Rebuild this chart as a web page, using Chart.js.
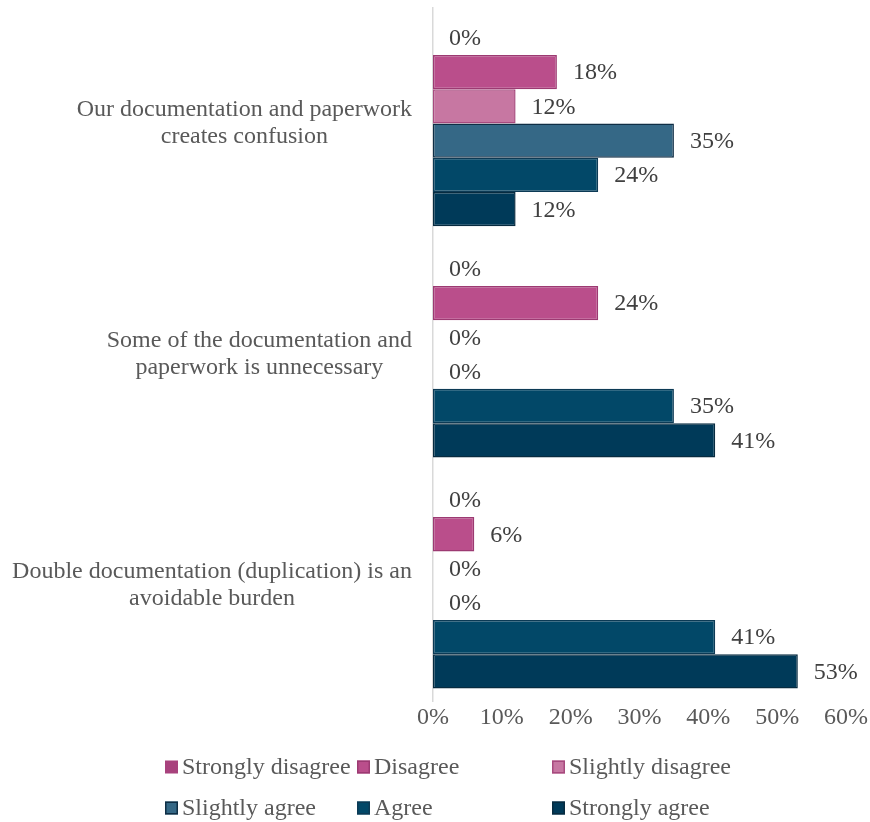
<!DOCTYPE html>
<html>
<head>
<meta charset="utf-8">
<script src="https://cdn.jsdelivr.net/npm/chart.js@4"></script>
<style>
  html, body { margin: 0; padding: 0; background: #fff; }
  #wrap { width: 870px; height: 822px; }
</style>
</head>
<body>
<div id="wrap"><canvas id="surveyChart" width="870" height="822"></canvas></div>
<script>
const categories = [
  ["Our documentation and paperwork", "creates confusion"],
  ["Some of the documentation and", "paperwork is unnecessary"],
  ["Double documentation (duplication) is an", "avoidable burden"]
];
const seriesNames = ["Strongly disagree", "Disagree", "Slightly disagree", "Slightly agree", "Agree", "Strongly agree"];
const stronglyDisagree = [0, 0, 0];
const disagree = [18, 24, 6];
const slightlyDisagree = [12, 0, 0];
const slightlyAgree = [35, 0, 0];
const agree = [24, 35, 41];
const stronglyAgree = [12, 41, 53];
const xTicks = [0, 10, 20, 30, 40, 50, 60];

const fills = ["#A8427D", "#BA4E8B", "#C777A2", "#356886", "#024868", "#003A59"];
const borders = ["#A8427D", "#9C3A72", "#A74A7E", "#0F2E45", "#0C3A55", "#072B40"];
const borderWidths = [0, 1.5, 1.5, 1.5, 1.5, 1.5];
const allValues = [stronglyDisagree, disagree, slightlyDisagree, slightlyAgree, agree, stronglyAgree];

const FONT = "'Liberation Serif', 'Times New Roman', serif";

// labels at the end of each bar
const valueLabels = {
  id: "valueLabels",
  afterDatasetsDraw(chart) {
    const ctx = chart.ctx;
    ctx.save();
    ctx.font = "24px " + FONT;
    ctx.fillStyle = "#404040";
    ctx.textAlign = "left";
    ctx.textBaseline = "middle";
    chart.data.datasets.forEach((ds, i) => {
      chart.getDatasetMeta(i).data.forEach((bar, j) => {
        ctx.fillText(ds.data[j] + "%", bar.x + 16, bar.y + 1);
      });
    });
    ctx.restore();
  }
};

// category labels: block right-aligned, lines centered inside block
const categoryLabels = {
  id: "categoryLabels",
  afterDraw(chart) {
    const ctx = chart.ctx;
    const yScale = chart.scales.y;
    ctx.save();
    ctx.font = "24px " + FONT;
    ctx.fillStyle = "#595959";
    ctx.textAlign = "center";
    ctx.textBaseline = "middle";
    const lineH = 27;
    categories.forEach((lines, i) => {
      const w = Math.max(...lines.map(l => ctx.measureText(l).width));
      const cx = 412 - w / 2;
      const cy = yScale.getPixelForValue(i);
      lines.forEach((l, k) => {
        ctx.fillText(l, cx, cy + (k - (lines.length - 1) / 2) * lineH);
      });
    });
    ctx.restore();
  }
};

// legend laid out in a 3-column grid
const gridLegend = {
  id: "gridLegend",
  afterDraw(chart) {
    const ctx = chart.ctx;
    const cols = [165, 357, 552];
    const rows = [767, 808];
    ctx.save();
    ctx.font = "24px " + FONT;
    ctx.textAlign = "left";
    ctx.textBaseline = "middle";
    chart.data.datasets.forEach((ds, i) => {
      const x = cols[i % 3];
      const y = rows[Math.floor(i / 3)];
      ctx.fillStyle = ds.backgroundColor;
      ctx.fillRect(x, y - 6.5, 13, 13);
      if (ds.borderWidth) {
        ctx.strokeStyle = ds.borderColor;
        ctx.lineWidth = 1.5;
        ctx.strokeRect(x + 0.75, y - 5.75, 11.5, 11.5);
      }
      ctx.fillStyle = "#595959";
      ctx.fillText(ds.label, x + 17, y + 1);
    });
    ctx.restore();
  }
};

new Chart(document.getElementById("surveyChart").getContext("2d"), {
  type: "bar",
  data: {
    labels: categories.map(c => c.join(" ")),
    datasets: seriesNames.map((name, i) => ({
      label: name,
      data: allValues[i],
      backgroundColor: fills[i],
      borderColor: borders[i],
      borderWidth: borderWidths[i],
      borderSkipped: false,
      categoryPercentage: 0.89,
      barPercentage: 1
    }))
  },
  options: {
    indexAxis: "y",
    responsive: false,
    animation: false,
    layout: { padding: { left: 433, right: 5, top: 8, bottom: 88 } },
    plugins: {
      legend: { display: false },
      tooltip: { enabled: false }
    },
    scales: {
      x: {
        min: 0,
        max: 60,
        afterBuildTicks: axis => { axis.ticks = xTicks.map(v => ({ value: v })); },
        grid: { display: false, drawTicks: false },
        border: { display: false },
        ticks: {
          padding: 2,
          maxRotation: 0,
          color: "#595959",
          font: { family: FONT, size: 24 },
          callback: v => v + "%"
        }
      },
      y: {
        grid: { display: false, drawTicks: false },
        border: { display: true, color: "#D9D9D9", width: 1.5 },
        ticks: { display: false }
      }
    }
  },
  plugins: [valueLabels, categoryLabels, gridLegend]
});
</script>
</body>
</html>
